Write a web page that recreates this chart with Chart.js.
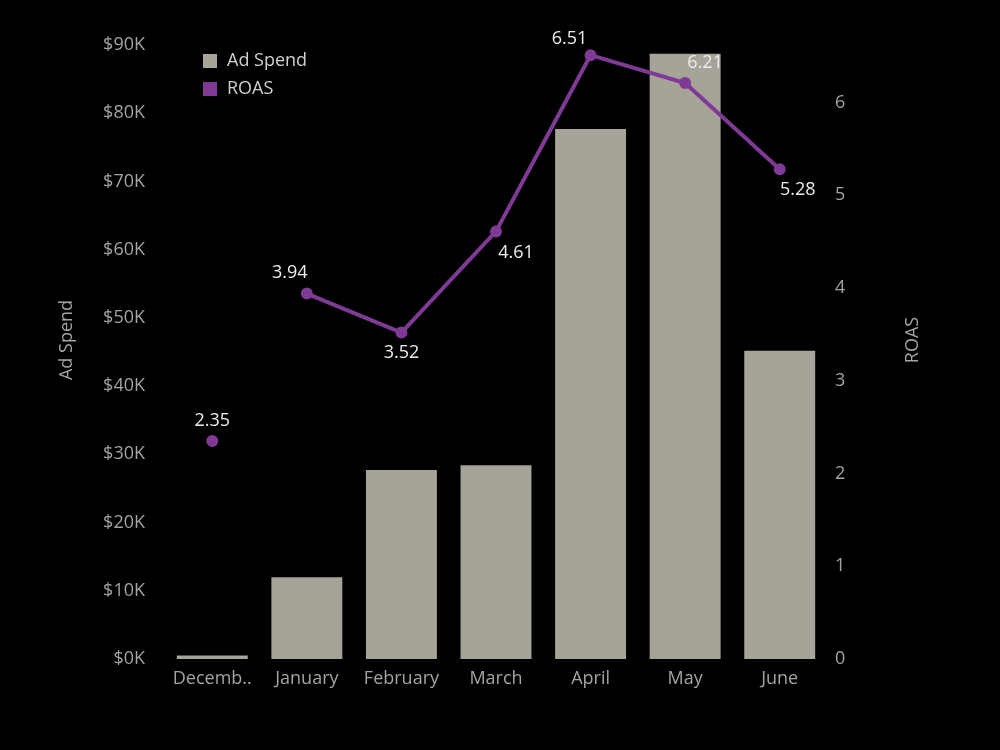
<!DOCTYPE html>
<html>
<head>
<meta charset="utf-8">
<script src="https://cdn.jsdelivr.net/npm/chart.js@4.4.0/dist/chart.umd.min.js"></script>
<style>
  html, body { margin: 0; padding: 0; background: #000; }
  #wrap { width: 1000px; height: 750px; }
</style>
</head>
<body>
<div id="wrap"><canvas id="myChart" width="1000" height="750"></canvas></div>
<script>
// chart data
const months = ['Decemb..', 'January', 'February', 'March', 'April', 'May', 'June'];
const adSpend = [500, 12000, 27700, 28400, 77700, 88700, 45200];
const roas = [2.35, 3.94, 3.52, 4.61, 6.51, 6.21, 5.28];

// where each ROAS label sits relative to its point (dx, dy in px)
const labelOffsets = [[0, -20], [-17, -21], [0, 20], [20, 21], [-21, -16], [20, -20], [18, 21]];

const barColor = '#A6A399';
const lineColor = '#7E3A95';
const tickColor = '#A3A3A3';
const fontFamily = '"Open Sans", "DejaVu Sans", sans-serif';

// draws the ROAS values, axis titles and the legend
const overlayPlugin = {
  id: 'overlay',
  afterDatasetsDraw(chart) {
    const c = chart.ctx;
    const meta = chart.getDatasetMeta(0);
    c.save();
    c.font = '18px ' + fontFamily;
    c.fillStyle = '#EDEDED';
    c.textAlign = 'center';
    c.textBaseline = 'middle';
    meta.data.forEach((pt, i) => {
      const off = labelOffsets[i];
      c.fillText(roas[i].toFixed(2), pt.x + off[0], pt.y + off[1]);
    });

    // axis titles, both reading bottom to top
    c.fillStyle = tickColor;
    [['Ad Spend', 67], ['ROAS', 913]].forEach(t => {
      c.save();
      c.translate(t[1], 340);
      c.rotate(-Math.PI / 2);
      c.fillText(t[0], 0, 0);
      c.restore();
    });

    // legend
    const items = [['Ad Spend', barColor], ['ROAS', lineColor]];
    c.textAlign = 'left';
    items.forEach((it, i) => {
      const y = 61 + i * 28;
      c.fillStyle = it[1];
      c.fillRect(203, y - 7, 14, 14);
      c.fillStyle = '#D0D0D0';
      c.fillText(it[0], 227, y);
    });
    c.restore();
  }
};

const ctx = document.getElementById('myChart');

new Chart(ctx, {
  data: {
    labels: months,
    datasets: [{
      type: 'line',
      label: 'ROAS',
      data: roas,
      yAxisID: 'y1',
      borderColor: lineColor,
      backgroundColor: lineColor,
      borderWidth: 4,
      pointRadius: 4,
      pointHoverRadius: 4,
      tension: 0,
      order: 1,
      segment: {
        // December is not joined to January
        borderColor: s => s.p0DataIndex === 0 ? 'rgba(0,0,0,0)' : lineColor
      }
    }, {
      type: 'bar',
      label: 'Ad Spend',
      data: adSpend,
      yAxisID: 'y',
      backgroundColor: barColor,
      categoryPercentage: 0.75,
      barPercentage: 1.0,
      order: 2
    }]
  },
  options: {
    responsive: false,
    maintainAspectRatio: false,
    animation: false,
    layout: { padding: { left: 50, right: 72, top: 45, bottom: 0 } },
    plugins: {
      legend: { display: false },
      tooltip: { enabled: false }
    },
    scales: {
      x: {
        grid: { display: false, drawTicks: false },
        border: { display: false },
        ticks: { color: tickColor, font: { family: fontFamily, size: 18 }, padding: 9, maxRotation: 0, autoSkip: false },
        afterFit(scale) { scale.height = 91; }
      },
      y: {
        position: 'left',
        min: 0,
        max: 90000,
        grid: { display: false, drawTicks: false },
        border: { display: false },
        ticks: {
          stepSize: 10000,
          includeBounds: false,
          color: tickColor,
          font: { family: fontFamily, size: 18 },
          padding: 20,
          callback: v => '$' + (v / 1000) + 'K'
        },
        afterFit(scale) { scale.width = 115; }
      },
      y1: {
        position: 'right',
        min: 0,
        max: 6.62,
        grid: { display: false, drawTicks: false },
        border: { display: false },
        ticks: {
          stepSize: 1,
          includeBounds: false,
          color: tickColor,
          font: { family: fontFamily, size: 18 },
          padding: 8
        },
        afterFit(scale) { scale.width = 101; }
      }
    }
  },
  plugins: [overlayPlugin]
});
</script>
</body>
</html>
